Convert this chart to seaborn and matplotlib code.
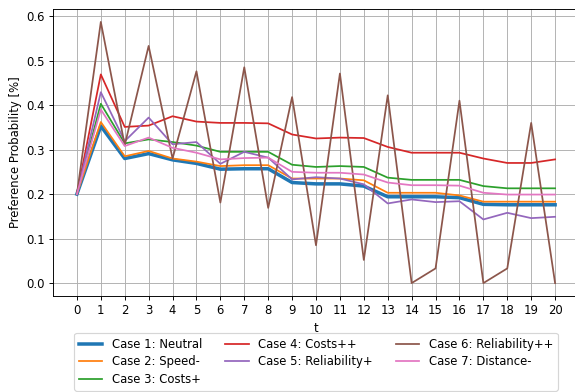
import matplotlib
matplotlib.use("Agg")
import matplotlib.pyplot as plt
import seaborn as sns
import pandas as pd
import numpy as np

t = list(range(21))
labels = ["Case 1: Neutral", "Case 2: Speed-", "Case 3: Costs+", "Case 4: Costs++",
          "Case 5: Reliability+", "Case 6: Reliability++", "Case 7: Distance-"]

case1 = [0.200, 0.353, 0.280, 0.291, 0.277, 0.269, 0.256, 0.257, 0.257, 0.226, 0.223,
         0.223, 0.218, 0.194, 0.194, 0.194, 0.192, 0.177, 0.176, 0.176, 0.176]
case2 = [0.200, 0.362, 0.285, 0.297, 0.280, 0.273, 0.263, 0.265, 0.265, 0.235, 0.235,
         0.235, 0.231, 0.203, 0.203, 0.203, 0.197, 0.183, 0.183, 0.183, 0.183]
case3 = [0.200, 0.403, 0.314, 0.323, 0.317, 0.309, 0.295, 0.295, 0.295, 0.266, 0.261,
         0.263, 0.261, 0.237, 0.232, 0.232, 0.232, 0.218, 0.213, 0.213, 0.213]
case4 = [0.200, 0.469, 0.351, 0.354, 0.375, 0.363, 0.360, 0.360, 0.359, 0.334, 0.325,
         0.327, 0.326, 0.306, 0.293, 0.293, 0.293, 0.280, 0.270, 0.270, 0.278]
case5 = [0.200, 0.429, 0.319, 0.372, 0.312, 0.317, 0.268, 0.295, 0.282, 0.233, 0.238,
         0.235, 0.222, 0.179, 0.188, 0.182, 0.184, 0.143, 0.158, 0.146, 0.149]
case6 = [0.200, 0.587, 0.310, 0.533, 0.280, 0.476, 0.181, 0.485, 0.169, 0.418, 0.085,
         0.471, 0.052, 0.422, 0.000, 0.033, 0.410, 0.000, 0.033, 0.360, 0.000]
case7 = [0.200, 0.390, 0.308, 0.327, 0.304, 0.293, 0.278, 0.281, 0.282, 0.250, 0.248,
         0.248, 0.244, 0.226, 0.220, 0.220, 0.219, 0.203, 0.199, 0.199, 0.199]

series = [case1, case2, case3, case4, case5, case6, case7]
colors = ["#1f77b4", "#ff7f0e", "#2ca02c", "#d62728", "#9467bd", "#8c564b", "#e377c2"]
widths = [3.0, 1.5, 1.5, 1.5, 1.5, 1.5, 1.5]

DPI = 84
fig = plt.figure(figsize=(575 / DPI, 392 / DPI), dpi=DPI)
ax = fig.add_axes([53 / 575, 1 - 296 / 392, (579 - 53) / 575, (296 - 9) / 392])

for lab, vals, c, w in zip(labels, series, colors, widths):
    df = pd.DataFrame({"t": t, "p": vals})
    sns.lineplot(data=df, x="t", y="p", ax=ax, color=c, linewidth=w, label=lab)

ax.set_xlim(-1, 21)
ax.set_ylim(-0.029, 0.616)
ax.set_xticks(t)
ax.set_yticks(np.arange(0, 0.61, 0.1))
ax.set_yticklabels(["0.0", "0.1", "0.2", "0.3", "0.4", "0.5", "0.6"])
ax.grid(True, color="#b0b0b0", linewidth=0.8)
ax.set_axisbelow(True)
ax.spines["right"].set_visible(False)
ax.set_xlabel("t")
ax.set_ylabel("Preference Probability [%]")
ax.legend(loc="upper center", bbox_to_anchor=((316 - 53) / 526, -0.117), ncol=3,
          labelspacing=0.4, borderaxespad=0.3)

fig.savefig("out.png", dpi=DPI)
